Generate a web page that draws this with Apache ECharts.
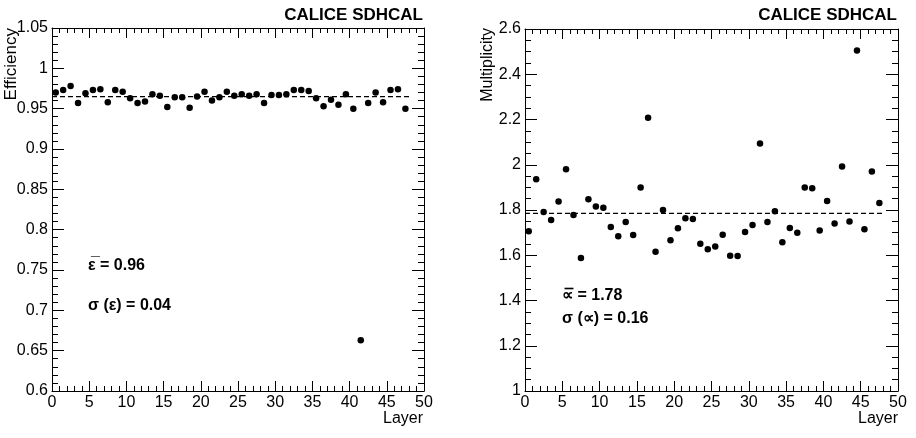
<!DOCTYPE html>
<html>
<head>
<meta charset="utf-8">
<script src="https://cdn.jsdelivr.net/npm/echarts@6/dist/echarts.min.js"></script>
<style>
  html, body { margin: 0; padding: 0; background: #fff; }
  #main { width: 916px; height: 438px; }
</style>
</head>
<body>
<div id="main"></div>
<script>
// layer numbers (bins 0-1, 1-2, ... 47-48)
var layers = [1, 2, 3, 4, 5, 6, 7, 8, 9, 10, 11, 12, 13, 14, 15, 16, 17, 18, 19, 20, 21, 22, 23, 24,
              25, 26, 27, 28, 29, 30, 31, 32, 33, 34, 35, 36, 37, 38, 39, 40, 41, 42, 43, 44, 45, 46, 47, 48];

var efficiency = [0.970, 0.973, 0.978, 0.957, 0.969, 0.973, 0.974, 0.958, 0.973, 0.971, 0.963, 0.957,
                  0.959, 0.968, 0.966, 0.952, 0.964, 0.964, 0.951, 0.965, 0.971, 0.960, 0.964, 0.971,
                  0.966, 0.968, 0.966, 0.968, 0.957, 0.967, 0.967, 0.968, 0.973, 0.973, 0.972, 0.963,
                  0.953, 0.961, 0.955, 0.968, 0.950, 0.663, 0.957, 0.970, 0.958, 0.973, 0.974, 0.950];

var multiplicity = [1.706, 1.936, 1.791, 1.756, 1.838, 1.980, 1.778, 1.588, 1.847, 1.816, 1.810, 1.725,
                    1.684, 1.747, 1.689, 1.899, 2.208, 1.616, 1.800, 1.666, 1.719, 1.763, 1.760, 1.651,
                    1.627, 1.639, 1.691, 1.598, 1.597, 1.703, 1.734, 2.094, 1.747, 1.794, 1.657, 1.720,
                    1.700, 1.899, 1.896, 1.709, 1.840, 1.740, 1.992, 1.749, 2.505, 1.715, 1.970, 1.831];

var effMean = 0.965;
var multMean = 1.785;
var meanRange = [0, 48];

var font = '"Liberation Sans", Arial, Helvetica, sans-serif';

function points(values) {
    return values.map(function (v, i) { return [layers[i] - 0.5, v]; });
}
function meanLine(m) {
    return meanRange.map(function (x) { return [x, m]; });
}

function xAxes(grid, pos) {
    return {
        gridIndex: grid, type: 'value', position: pos,
        min: 0, max: 50, interval: 5,
        axisLine: { show: true, onZero: false, lineStyle: { color: '#000', width: 1 } },
        axisTick: { show: true, inside: true, length: 10, lineStyle: { color: '#000' } },
        minorTick: { show: true, splitNumber: 5, length: 5, lineStyle: { color: '#000' } },
        axisLabel: { show: pos === 'bottom', color: '#000', fontSize: 16, fontFamily: font, margin: 4 },
        splitLine: { show: false }
    };
}
function yAxes(grid, pos, min, max, interval, minor) {
    return {
        gridIndex: grid, type: 'value', position: pos,
        min: min, max: max, interval: interval,
        axisLine: { show: true, onZero: false, lineStyle: { color: '#000', width: 1 } },
        axisTick: { show: true, inside: true, length: 12, lineStyle: { color: '#000' } },
        minorTick: { show: true, splitNumber: minor, length: 6, lineStyle: { color: '#000' } },
        axisLabel: { show: pos === 'left', color: '#000', fontSize: 16, fontFamily: font, margin: 4 },
        splitLine: { show: false }
    };
}

var myChart = echarts.init(document.getElementById('main'));

var option = {
    backgroundColor: '#fff',
    animation: false,
    grid: [
        { left: 52, top: 28, width: 372, height: 363 },
        { left: 525, top: 29, width: 373, height: 362 }
    ],
    xAxis: [
        xAxes(0, 'bottom'), xAxes(0, 'top'),
        xAxes(1, 'bottom'), xAxes(1, 'top')
    ],
    yAxis: [
        yAxes(0, 'left', 0.6, 1.05, 0.05, 5), yAxes(0, 'right', 0.6, 1.05, 0.05, 5),
        yAxes(1, 'left', 1, 2.6, 0.2, 4), yAxes(1, 'right', 1, 2.6, 0.2, 4)
    ],
    series: [
        {
            type: 'line', xAxisIndex: 0, yAxisIndex: 0, data: meanLine(effMean),
            showSymbol: false, lineStyle: { color: '#000', width: 1.2, type: [5, 3] }, silent: true
        },
        {
            type: 'scatter', xAxisIndex: 0, yAxisIndex: 0, data: points(efficiency),
            symbolSize: 6.5, itemStyle: { color: '#000', opacity: 1 }
        },
        {
            type: 'line', xAxisIndex: 2, yAxisIndex: 2, data: meanLine(multMean),
            showSymbol: false, lineStyle: { color: '#000', width: 1.2, type: [5, 3] }, silent: true
        },
        {
            type: 'scatter', xAxisIndex: 2, yAxisIndex: 2, data: points(multiplicity),
            symbolSize: 6.5, itemStyle: { color: '#000', opacity: 1 }
        }
    ],
    graphic: [
        { type: 'text', x: 423, y: 15, style: { text: 'CALICE SDHCAL', font: 'bold 17px ' + font, fill: '#000', textAlign: 'right', textVerticalAlign: 'middle' } },
        { type: 'text', x: 897, y: 15, style: { text: 'CALICE SDHCAL', font: 'bold 17px ' + font, fill: '#000', textAlign: 'right', textVerticalAlign: 'middle' } },
        { type: 'text', x: 11, y: 28, rotation: Math.PI / 2, style: { text: 'Efficiency', font: '17px ' + font, fill: '#000', textAlign: 'right', textVerticalAlign: 'middle' } },
        { type: 'text', x: 488, y: 28, rotation: Math.PI / 2, style: { text: 'Multiplicity', font: '16px ' + font, fill: '#000', textAlign: 'right', textVerticalAlign: 'middle' } },
        { type: 'text', x: 423, y: 419, style: { text: 'Layer', font: '16px ' + font, fill: '#000', textAlign: 'right', textVerticalAlign: 'middle' } },
        { type: 'text', x: 898, y: 419, style: { text: 'Layer', font: '16px ' + font, fill: '#000', textAlign: 'right', textVerticalAlign: 'middle' } },
        { type: 'text', x: 88, y: 266, style: { text: '\u03b5\u0305 = 0.96', font: 'bold 16px ' + font, fill: '#000', textVerticalAlign: 'middle' } },
        { type: 'text', x: 88, y: 306, style: { text: '\u03c3 (\u03b5) = 0.04', font: 'bold 16px ' + font, fill: '#000', textVerticalAlign: 'middle' } },
        { type: 'text', x: 562, y: 296, style: { text: '\u221d\u0305 = 1.78', font: 'bold 16px ' + font, fill: '#000', textVerticalAlign: 'middle' } },
        { type: 'text', x: 562, y: 319, style: { text: '\u03c3 (\u221d) = 0.16', font: 'bold 16px ' + font, fill: '#000', textVerticalAlign: 'middle' } }
    ]
};

myChart.setOption(option);
</script>
</body>
</html>
